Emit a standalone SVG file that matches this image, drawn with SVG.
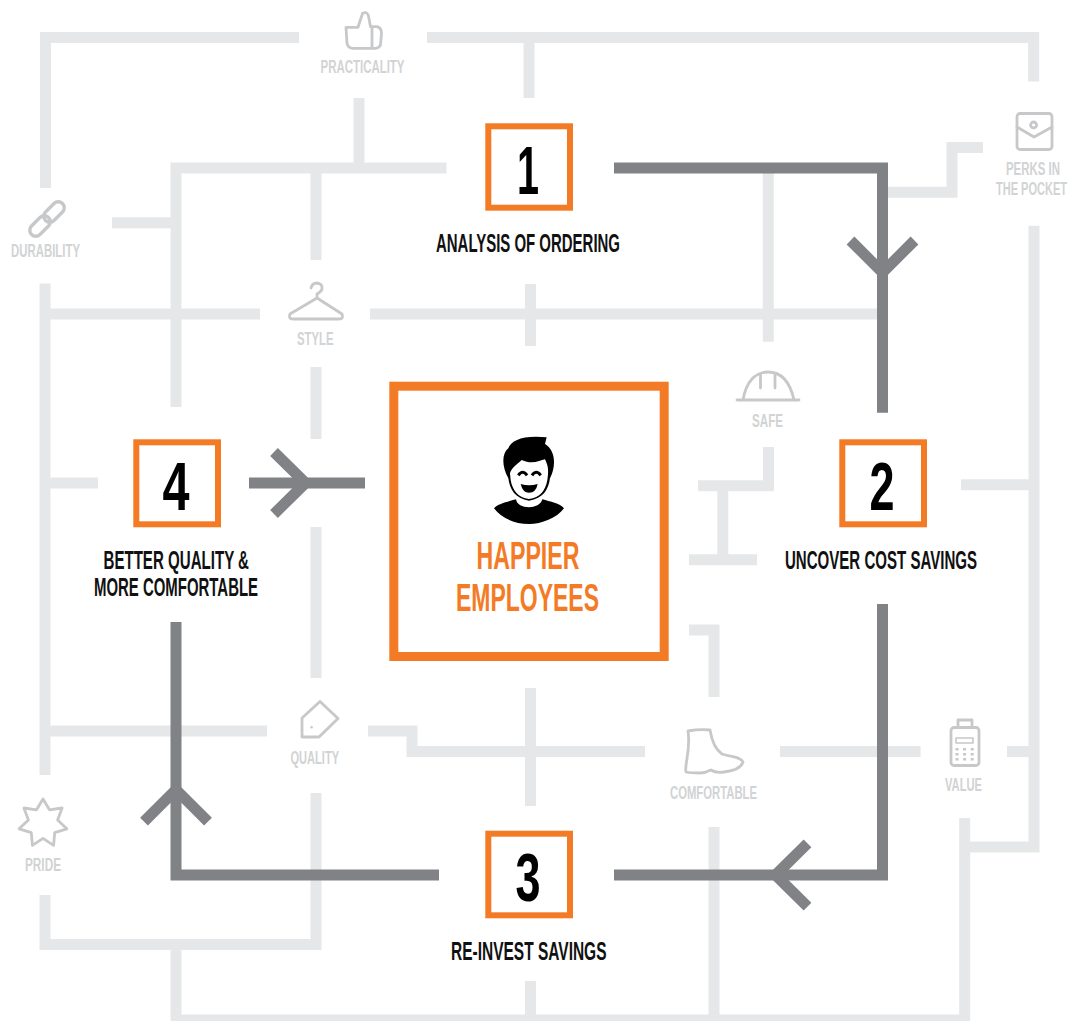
<svg xmlns="http://www.w3.org/2000/svg" width="1069" height="1021" viewBox="0 0 1069 1021">
<style>
text{font-family:"Liberation Sans Narrow","Liberation Sans",Arial,sans-serif;font-weight:700}
.l{fill:none;stroke:#e6e7e8;stroke-width:11}
.d{fill:none;stroke:#808285;stroke-width:11}
.b{fill:#fff;stroke:#f47b25;stroke-width:6}
.n{font-size:68px;fill:#000}
.s{font-size:25px;fill:#111}
.t{font-size:19px;fill:#d1d3d4}
.m{font-size:39px;fill:#f47b25}
.e{text-anchor:end}
.i{fill:none;stroke:#c7c8ca;stroke-width:2.8;stroke-linejoin:round;stroke-linecap:round}
</style>
<rect width="1069" height="1021" fill="#fff"/>
<g id="connectors">
<g id="light-lines" class="l">
<path d="M299,37.5H45.5V188"/>
<path d="M427,37.5H1033.7V81.5"/>
<path d="M529,37.5V98"/>
<path d="M359,98V168"/>
<path d="M446.5,168H176V407"/>
<path d="M316,168V260"/>
<path d="M112,222.8H176"/>
<path d="M45,283.5V775"/>
<path d="M45,314H260"/>
<path d="M370,314H882"/>
<path d="M530.5,284V346"/>
<path d="M768.3,168V341.7"/>
<path d="M882,192.3H952V147.5H983"/>
<path d="M1034,225.7V847H964.7"/>
<path d="M964.7,818V1020"/>
<path d="M961,484.8H1034"/>
<path d="M45,483H98"/>
<path d="M316,367V439"/>
<path d="M316,527V678"/>
<path d="M45,731H267"/>
<path d="M368,731H412V751.5H645"/>
<path d="M530.5,688V806"/>
<path d="M530.5,981V1020"/>
<path d="M780,751.5H920.6"/>
<path d="M1007,751.5H1034"/>
<path d="M768.5,447V485.7H698"/>
<path d="M722.8,485.7V559.7"/>
<path d="M689,559.7H757"/>
<path d="M689,630H714V697"/>
<path d="M714,827V1020"/>
<path d="M45,895V944.5H316V793"/>
<path d="M176,944.5V1020"/>
<path d="M171,1020H970"/>
</g>
<g id="dark-arrows" class="d">
<path d="M614,168H882.5V412.7"/>
<path d="M850.5,240.5L882.5,272.5L914.5,240.5"/>
<path d="M882.5,604V875H614"/>
<path d="M807.5,843.3L775.5,875L807.5,906.7"/>
<path d="M439,875H176V622"/>
<path d="M144,821.7L176,789.7L208,821.7"/>
<path d="M249,483H365"/>
<path d="M274,452L305.5,483L274,514"/>
</g>
</g>
<g id="node-center">
<rect x="393.8" y="386.2" width="270.4" height="270.3" fill="#fff" stroke="#f47b25" stroke-width="9"/>
<g transform="translate(380 370) scale(.33333)">
<path fill="#000" d="M385,325C365,290 365,250 385,235C395,210 430,195 500,202L495,222C525,240 530,285 510,325C505,360 490,385 447,392C405,385 390,360 385,325Z"/>
<path fill="#fff" d="M390,310C395,292 410,285 425,270C455,285 480,272 495,268C506,290 506,305 502,330C497,360 480,384 447,387C415,384 397,360 392,330Z"/>
<path fill="none" stroke="#000" stroke-width="9" d="M415,316Q428,298 441,316M456,316Q469,298 482,316"/>
<path fill="#000" d="M422,342Q447,350 473,342Q468,368 447,368Q428,368 422,342Z"/>
<path fill="#000" d="M342,415C355,400 385,395 408,388C412,420 480,420 487,388C510,395 540,400 552,415C530,445 485,462 447,462C405,462 365,445 342,415Z"/>
</g>
<text class="m" x="476.5" y="569" textLength="103" lengthAdjust="spacingAndGlyphs">HAPPIER</text>
<text class="m" x="456" y="611" textLength="143" lengthAdjust="spacingAndGlyphs">EMPLOYEES</text>
</g>
<g id="node-1">
<rect class="b" x="488.3" y="126.3" width="81.7" height="81.4"/>
<text class="n" x="517" y="193.5" textLength="22" lengthAdjust="spacingAndGlyphs">1</text>
<text class="s" x="436" y="252" textLength="184" lengthAdjust="spacingAndGlyphs">ANALYSIS OF ORDERING</text>
</g>
<g id="node-2">
<rect class="b" x="842.3" y="442.3" width="81.7" height="82"/>
<text class="n" x="869.5" y="509.5" textLength="25" lengthAdjust="spacingAndGlyphs">2</text>
<text class="s e" x="977" y="568.5" textLength="192" lengthAdjust="spacingAndGlyphs">UNCOVER COST SAVINGS</text>
</g>
<g id="node-3">
<rect class="b" x="488.3" y="833.7" width="81.7" height="81.6"/>
<text class="n" x="515.5" y="901" textLength="25" lengthAdjust="spacingAndGlyphs">3</text>
<text class="s" x="451" y="960" textLength="155.5" lengthAdjust="spacingAndGlyphs">RE-INVEST SAVINGS</text>
</g>
<g id="node-4">
<rect class="b" x="136.3" y="442.3" width="81.7" height="82"/>
<text class="n" x="162.5" y="509.5" textLength="27" lengthAdjust="spacingAndGlyphs">4</text>
<text class="s" x="103.5" y="568.5" textLength="145.5" lengthAdjust="spacingAndGlyphs">BETTER QUALITY &amp;</text>
<text class="s" x="94" y="596" textLength="164" lengthAdjust="spacingAndGlyphs">MORE COMFORTABLE</text>
</g>
<g id="node-practicality">
<path class="i" d="M346,27.3H358L362.6,13.3Q367,11 368.5,16L370.5,26.7H377Q381.5,28 381.5,33.3L380.5,45Q379,48.3 375.3,48.3H353Q348,48.3 347,43.3ZM372,27V48"/>
<text class="t" x="320.5" y="73" textLength="84" lengthAdjust="spacingAndGlyphs">PRACTICALITY</text>
</g>
<g id="node-durability">
<rect class="i" x="42" y="206" width="24" height="12" rx="6" transform="rotate(-45 54 212)" style="stroke-width:3.4"/>
<rect class="i" x="28" y="220" width="24" height="12" rx="6" transform="rotate(-45 40 226)" style="stroke-width:3.4"/>
<text class="t" x="11" y="256.5" textLength="69" lengthAdjust="spacingAndGlyphs">DURABILITY</text>
</g>
<g id="node-style">
<path class="i" d="M311,288Q312,283 317,283Q323,284 322,289Q321,292 317,294V298L290,314Q288,319 293,319H339Q344,319 342,314L317,298"/>
<text class="t" x="297" y="345" textLength="36.5" lengthAdjust="spacingAndGlyphs">STYLE</text>
</g>
<g id="node-perks">
<rect class="i" x="1017" y="113.5" width="35" height="36" rx="3"/>
<path class="i" d="M1017,127L1034,137L1052,127"/>
<circle class="i" cx="1033.6" cy="125" r="3"/>
<text class="t e" x="1060" y="175" textLength="54" lengthAdjust="spacingAndGlyphs">PERKS IN</text>
<text class="t e" x="1067" y="195" textLength="71" lengthAdjust="spacingAndGlyphs">THE POCKET</text>
</g>
<g id="node-safe">
<path class="i" d="M737,400H799M743,400C746,382 755,372 768,372C781,372 790,382 794,400M760.5,374V388M775,374V388"/>
<text class="t" x="752" y="426.5" textLength="31" lengthAdjust="spacingAndGlyphs">SAFE</text>
</g>
<g id="node-quality">
<path class="i" d="M302,737V718L320,701.5L338,718.5L319,737Z"/>
<circle cx="311.6" cy="727.3" r="1.2" fill="#c7c8ca"/>
<text class="t" x="290.5" y="763.5" textLength="48.5" lengthAdjust="spacingAndGlyphs">QUALITY</text>
</g>
<g id="node-pride">
<path class="i" d="M43,799L49.5,809.8L62.1,808L57.6,820L66.9,828.8L54.7,832.7L53.6,845.4L43,838.3L32.4,845.4L31.3,832.7L19.1,828.8L28.4,820L23.9,808L36.5,809.8Z"/>
<text class="t" x="25" y="870.5" textLength="36" lengthAdjust="spacingAndGlyphs">PRIDE</text>
</g>
<g id="node-comfortable">
<path class="i" d="M688,731Q700,729 710,730C712,742 716,750 722,754C730,757 740,756 743,762C741,768 732,771 724,772C718,773 714,772 711,770C707,772 704,773 700,773C696,773 690,773 686,772C684,766 691,750 688,731Z"/>
<text class="t" x="670" y="798.5" textLength="87" lengthAdjust="spacingAndGlyphs">COMFORTABLE</text>
</g>
<g id="node-value">
<rect class="i" x="951" y="727.5" width="28" height="38" rx="3"/>
<path class="i" d="M958,727.5V720H972V727.5"/>
<rect class="i" x="956" y="738" width="17" height="5" style="stroke-width:1.6"/>
<path fill="none" stroke="#c7c8ca" stroke-width="2.4" stroke-dasharray="3 4.6" d="M955.5,749.3H975M955.5,754.3H975M955.5,759.3H975"/>
<text class="t" x="945" y="790.5" textLength="37" lengthAdjust="spacingAndGlyphs">VALUE</text>
</g>
</svg>
